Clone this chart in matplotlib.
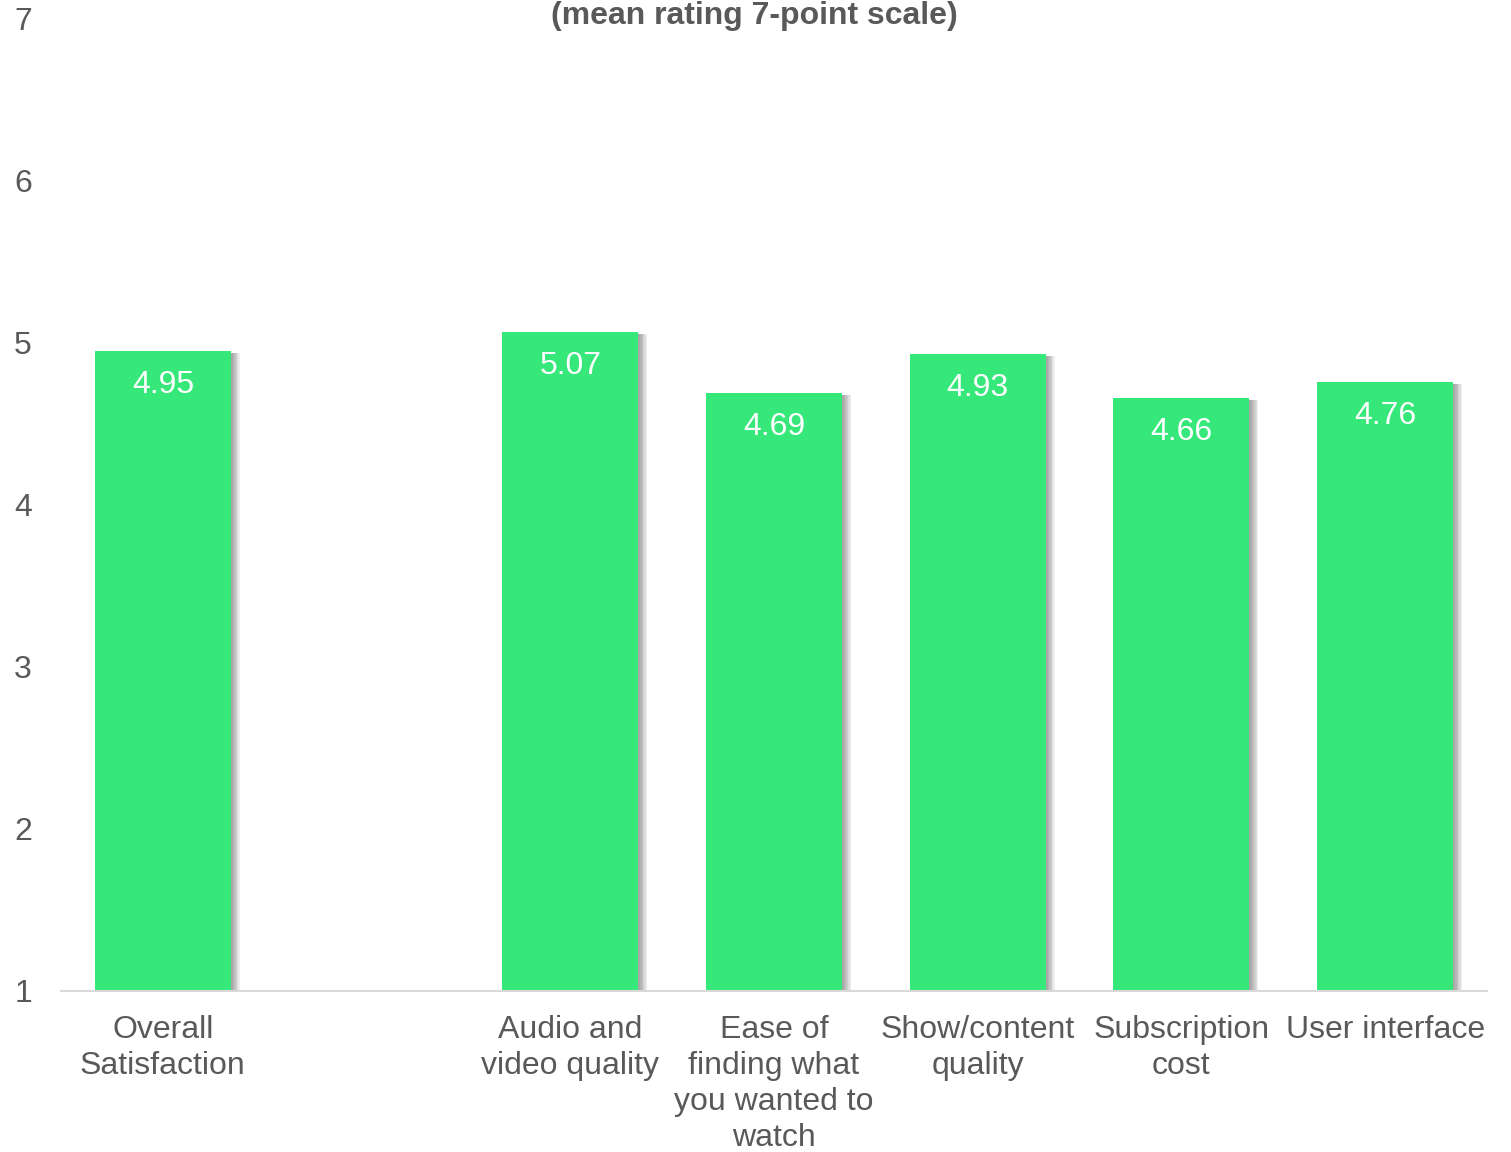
import matplotlib.pyplot as plt
import matplotlib.patheffects as pe

categories = ['Overall\nSatisfaction', '', 'Audio and\nvideo quality',
              'Ease of\nfinding what\nyou wanted to\nwatch',
              'Show/content\nquality', 'Subscription\ncost', 'User interface']
values = [4.95, None, 5.07, 4.69, 4.93, 4.66, 4.76]
yticks = [1, 2, 3, 4, 5, 6, 7]

plt.rcParams['font.family'] = ['Liberation Sans', 'DejaVu Sans']
grey = '#595959'
green = '#36E87A'

fig = plt.figure(figsize=(15.11, 11.52), dpi=100)
ax = fig.add_axes([0.0404, 0.1398, 0.9437, 0.8438])

xs = [i for i, v in enumerate(values) if v is not None]
vals = [v for v in values if v is not None]

# soft drop shadow: a few offset layers with low alpha
shadow = [pe.SimplePatchShadow(offset=(d, -1.5), shadow_rgbFace='#000000', alpha=0.065)
          for d in (1.5, 2.5, 3.5, 4.5, 5.5, 6.5)]
bars = ax.bar(xs, [v - 1 for v in vals], bottom=1, width=0.667, color=green,
              zorder=3, path_effects=shadow + [pe.Normal()])

for x, v in zip(xs, vals):
    ax.annotate('{:.2f}'.format(v), (x, v), xytext=(0, -24.5), textcoords='offset points',
                ha='center', va='center', color='white', fontsize=23, zorder=4)

ax.set_xlim(-0.5, 6.5)
ax.set_ylim(1, 7)
ax.set_yticks(yticks)
ax.set_xticks(range(len(categories)))
ax.set_xticklabels(categories, fontsize=23, color=grey, linespacing=1.25)
ax.tick_params(axis='y', length=0, labelsize=23, labelcolor=grey, pad=21)
ax.tick_params(axis='x', length=0, pad=17.5)
for s in ['top', 'right', 'left']:
    ax.spines[s].set_visible(False)
ax.spines['bottom'].set_color('#d9d9d9')
ax.spines['bottom'].set_linewidth(1.5)
ax.spines['bottom'].set_zorder(5)

fig.text(0.499, 0.9995, '(mean rating 7-point scale)', ha='center',
         va='top', fontsize=23, fontweight='bold', color=grey)

fig.savefig('out.png', dpi=100)
plt.close()
